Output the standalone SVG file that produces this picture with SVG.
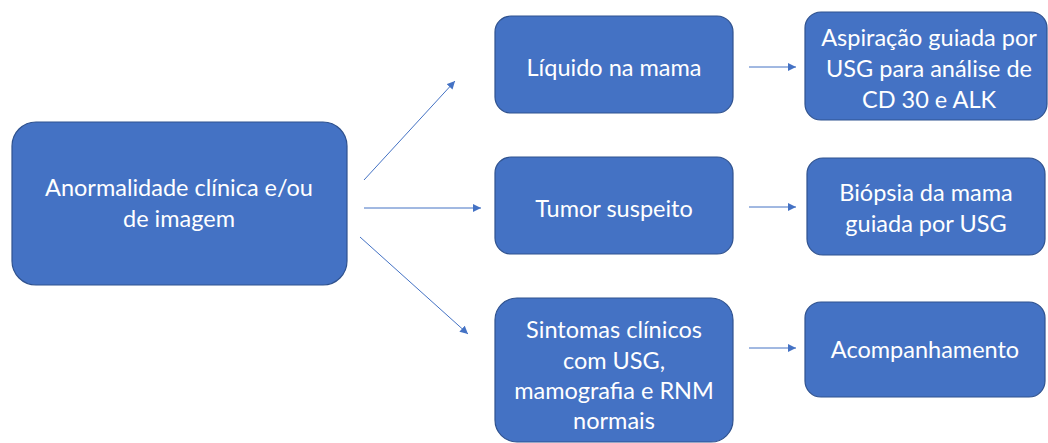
<svg xmlns="http://www.w3.org/2000/svg" width="1048" height="443" viewBox="0 0 1048 443">
<style>
.box{fill:#4472C4;stroke:#2F528F;stroke-width:1.2}
.t{fill:#fff;font-family:Lato,"Open Sans",sans-serif;font-size:23.5px;text-anchor:middle}
.c{stroke:#4472C4;stroke-width:1;fill:none;marker-end:url(#ah)}
</style>
<defs>
<marker id="ah" viewBox="0 0 10 10" refX="10" refY="5" markerWidth="8" markerHeight="8" markerUnits="userSpaceOnUse" orient="auto">
<path d="M0,0 L10,5 L0,10 z" fill="#4472C4"/>
</marker>
</defs>
<rect width="1048" height="443" fill="#fff"/>
<g id="connectors">
<line class="c" x1="364" y1="180" x2="455" y2="81"/>
<line class="c" x1="364" y1="208" x2="481" y2="208"/>
<line class="c" x1="360" y1="237" x2="468" y2="334"/>
<line class="c" x1="749" y1="67" x2="796" y2="67"/>
<line class="c" x1="749" y1="207" x2="796" y2="207"/>
<line class="c" x1="749" y1="348" x2="796" y2="348"/>
</g>
<g id="n-main">
<rect class="box" x="12" y="122" width="335" height="163" rx="24"/>
<text class="t" x="179" y="196">Anormalidade clínica e/ou</text>
<text class="t" x="179" y="227">de imagem</text>
</g>
<g id="n-liquido">
<rect class="box" x="495" y="16" width="238" height="97" rx="16"/>
<text class="t" x="614" y="76">Líquido na mama</text>
</g>
<g id="n-tumor">
<rect class="box" x="495" y="157" width="238" height="97" rx="16"/>
<text class="t" x="614" y="217">Tumor suspeito</text>
</g>
<g id="n-sintomas">
<rect class="box" x="495" y="298" width="238" height="144" rx="22"/>
<text class="t" x="614" y="338">Sintomas clínicos</text>
<text class="t" x="614" y="369">com USG,</text>
<text class="t" x="614" y="399">mamografia e RNM</text>
<text class="t" x="614" y="429">normais</text>
</g>
<g id="n-aspiracao">
<rect class="box" x="805" y="12" width="242" height="108" rx="16"/>
<text class="t" x="929" y="46">Aspiração guiada por</text>
<text class="t" x="929" y="77">USG para análise de</text>
<text class="t" x="929" y="108">CD 30 e ALK</text>
</g>
<g id="n-biopsia">
<rect class="box" x="807" y="158" width="238" height="97" rx="16"/>
<text class="t" x="926" y="201">Biópsia da mama</text>
<text class="t" x="926" y="232">guiada por USG</text>
</g>
<g id="n-acomp">
<rect class="box" x="805" y="302" width="240" height="95" rx="16"/>
<text class="t" x="925" y="358">Acompanhamento</text>
</g>
</svg>
